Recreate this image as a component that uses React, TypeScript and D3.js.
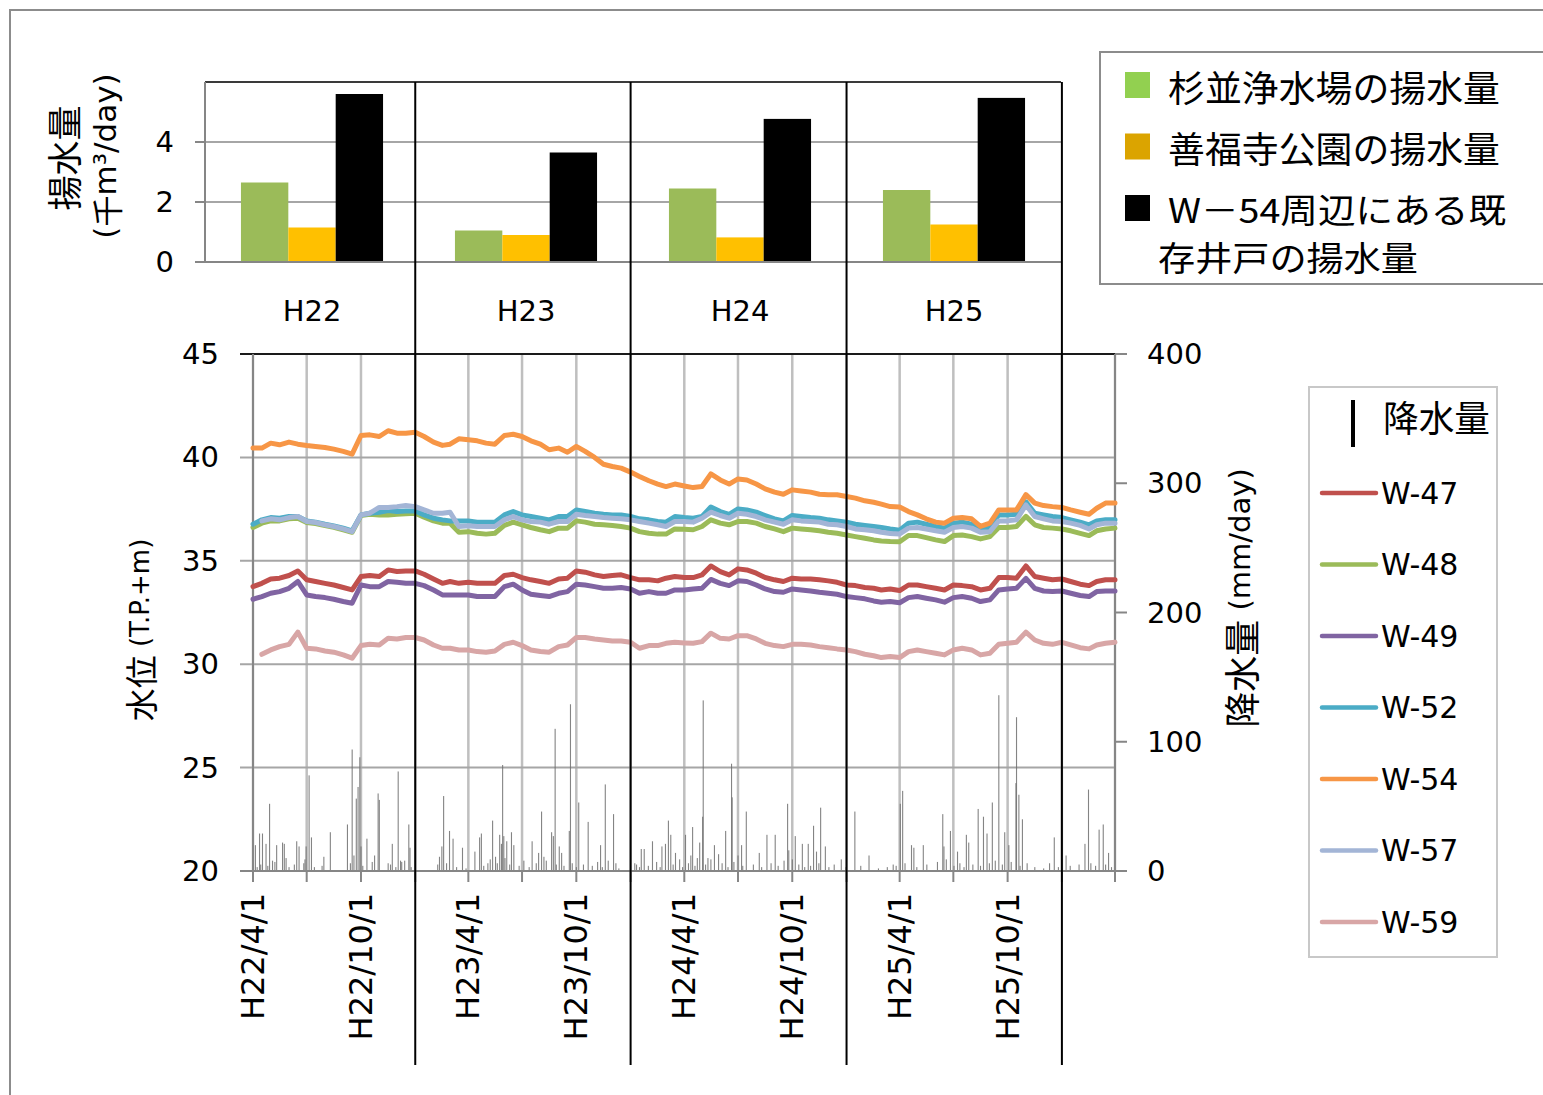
import React from 'react';
import * as d3 from 'd3';

// ---------- data ----------
const years = ['H22', 'H23', 'H24', 'H25'];
const pumpSuginami = [2.65, 1.05, 2.45, 2.4];
const pumpZenpukuji = [1.15, 0.9, 0.82, 1.25];
const pumpW54 = [5.6, 3.65, 4.77, 5.47];
const pumpTicks = [0, 2, 4];
const levelTicks = [20, 25, 30, 35, 40, 45];
const rainTicks = [0, 100, 200, 300, 400];

// water level, sampled on the 1st and 16th of each month from H22/4/1 to H26/4/1
const w47 = [
  33.75, 33.91, 34.12, 34.16, 34.29, 34.51, 34.08, 34.00, 33.91, 33.83, 33.71, 33.59, 34.24, 34.29, 34.24, 34.56, 34.48, 34.51, 34.51, 34.35, 34.12, 33.91, 34.00, 33.91,
  33.96, 33.91, 33.91, 33.91, 34.29, 34.35, 34.19, 34.08, 34.00, 33.91, 34.12, 34.16, 34.51, 34.45, 34.32, 34.24, 34.29, 34.32, 34.19, 34.08, 34.08, 34.03, 34.16, 34.24,
  34.19, 34.19, 34.32, 34.75, 34.48, 34.32, 34.61, 34.56, 34.40, 34.19, 34.08, 34.00, 34.16, 34.12, 34.12, 34.08, 34.03, 33.96, 33.83, 33.80, 33.71, 33.67, 33.59, 33.64,
  33.56, 33.83, 33.83, 33.75, 33.67, 33.59, 33.83, 33.80, 33.75, 33.59, 33.67, 34.19, 34.19, 34.16, 34.75, 34.24, 34.16, 34.08, 34.12, 34.00, 33.87, 33.80, 34.00, 34.08,
  34.08,
];
const w48 = [
  36.61, 36.82, 36.93, 36.93, 37.03, 37.06, 36.85, 36.80, 36.70, 36.62, 36.50, 36.38, 37.19, 37.25, 37.22, 37.22, 37.25, 37.28, 37.30, 37.11, 36.93, 36.82, 36.82, 36.38,
  36.41, 36.33, 36.29, 36.33, 36.71, 36.87, 36.74, 36.61, 36.50, 36.41, 36.58, 36.58, 36.93, 36.87, 36.77, 36.74, 36.71, 36.66, 36.58, 36.41, 36.33, 36.29, 36.29, 36.54,
  36.52, 36.50, 36.66, 36.98, 36.82, 36.74, 36.90, 36.90, 36.82, 36.66, 36.54, 36.41, 36.58, 36.54, 36.50, 36.45, 36.38, 36.33, 36.25, 36.17, 36.09, 36.01, 35.96, 35.93,
  35.92, 36.22, 36.22, 36.12, 36.01, 35.93, 36.22, 36.25, 36.17, 36.06, 36.17, 36.61, 36.61, 36.66, 37.15, 36.74, 36.61, 36.58, 36.54, 36.45, 36.33, 36.22, 36.45, 36.54,
  36.58,
];
const w49 = [
  33.14, 33.27, 33.43, 33.51, 33.67, 34.00, 33.35, 33.27, 33.22, 33.14, 33.03, 32.95, 33.83, 33.75, 33.75, 34.00, 33.96, 33.91, 33.91, 33.80, 33.59, 33.35, 33.35, 33.35,
  33.35, 33.27, 33.27, 33.27, 33.75, 33.87, 33.59, 33.38, 33.32, 33.27, 33.43, 33.51, 33.87, 33.83, 33.75, 33.67, 33.67, 33.71, 33.64, 33.43, 33.51, 33.43, 33.43, 33.59,
  33.59, 33.64, 33.67, 34.10, 33.91, 33.80, 34.03, 34.00, 33.83, 33.64, 33.51, 33.48, 33.64, 33.59, 33.54, 33.48, 33.43, 33.38, 33.27, 33.22, 33.16, 33.06, 33.00, 33.03,
  32.97, 33.22, 33.27, 33.19, 33.11, 33.00, 33.22, 33.27, 33.19, 33.03, 33.11, 33.59, 33.64, 33.67, 34.15, 33.67, 33.54, 33.51, 33.54, 33.43, 33.32, 33.27, 33.51, 33.54,
  33.54,
];
const w52 = [
  36.77, 36.98, 37.09, 37.06, 37.14, 37.14, 36.93, 36.87, 36.77, 36.69, 36.58, 36.45, 37.22, 37.30, 37.35, 37.43, 37.38, 37.41, 37.41, 37.22, 37.06, 36.98, 36.93, 36.93,
  36.92, 36.87, 36.87, 36.87, 37.22, 37.38, 37.22, 37.14, 37.06, 36.98, 37.14, 37.14, 37.46, 37.38, 37.30, 37.25, 37.22, 37.22, 37.14, 37.03, 36.98, 36.90, 36.87, 37.14,
  37.09, 37.06, 37.14, 37.60, 37.38, 37.25, 37.51, 37.46, 37.35, 37.19, 37.03, 36.93, 37.19, 37.14, 37.09, 37.06, 36.98, 36.93, 36.87, 36.77, 36.71, 36.66, 36.61, 36.54,
  36.48, 36.82, 36.87, 36.77, 36.66, 36.58, 36.82, 36.87, 36.77, 36.58, 36.61, 37.22, 37.22, 37.25, 37.85, 37.30, 37.22, 37.14, 37.09, 36.98, 36.87, 36.74, 36.93, 36.98,
  36.98,
];
const w54 = [
  40.45, 40.45, 40.69, 40.61, 40.74, 40.64, 40.58, 40.53, 40.48, 40.40, 40.29, 40.16, 41.06, 41.09, 41.01, 41.29, 41.17, 41.17, 41.22, 41.01, 40.74, 40.58, 40.64, 40.90,
  40.85, 40.80, 40.69, 40.64, 41.06, 41.12, 41.01, 40.80, 40.64, 40.37, 40.45, 40.25, 40.53, 40.29, 40.00, 39.67, 39.56, 39.48, 39.29, 39.08, 38.87, 38.71, 38.59, 38.71,
  38.62, 38.54, 38.59, 39.20, 38.91, 38.71, 38.96, 38.91, 38.71, 38.48, 38.32, 38.22, 38.43, 38.38, 38.32, 38.22, 38.19, 38.19, 38.11, 38.03, 37.90, 37.83, 37.74, 37.62,
  37.60, 37.38, 37.22, 37.03, 36.87, 36.82, 37.06, 37.09, 37.03, 36.66, 36.82, 37.46, 37.46, 37.46, 38.20, 37.79, 37.67, 37.62, 37.58, 37.46, 37.35, 37.25, 37.54, 37.79,
  37.79,
];
const w57 = [
  null, 36.93, 37.03, 36.98, 37.09, 37.14, 36.90, 36.85, 36.74, 36.66, 36.54, 36.41, 37.22, 37.30, 37.58, 37.58, 37.62, 37.67, 37.62, 37.46, 37.30, 37.30, 37.35, 36.66,
  36.69, 36.66, 36.66, 36.66, 36.98, 37.14, 36.98, 36.90, 36.87, 36.77, 36.90, 36.90, 37.25, 37.19, 37.14, 37.09, 37.06, 37.03, 36.98, 36.90, 36.82, 36.74, 36.66, 36.90,
  36.90, 36.87, 37.06, 37.35, 37.19, 37.06, 37.30, 37.25, 37.14, 36.98, 36.87, 36.77, 36.98, 36.93, 36.90, 36.87, 36.77, 36.74, 36.66, 36.54, 36.50, 36.45, 36.38, 36.32,
  36.30, 36.58, 36.61, 36.54, 36.45, 36.38, 36.61, 36.66, 36.58, 36.38, 36.41, 36.93, 36.93, 36.98, 37.70, 37.14, 37.03, 36.93, 36.90, 36.82, 36.71, 36.54, 36.74, 36.82,
  36.82,
];
const w59 = [
  null, 30.48, 30.69, 30.85, 30.96, 31.55, 30.77, 30.74, 30.64, 30.58, 30.45, 30.29, 30.90, 30.96, 30.93, 31.25, 31.22, 31.29, 31.29, 31.17, 30.93, 30.77, 30.77, 30.69,
  30.69, 30.61, 30.58, 30.64, 30.96, 31.06, 30.90, 30.69, 30.61, 30.58, 30.85, 30.93, 31.29, 31.29, 31.22, 31.17, 31.12, 31.12, 31.06, 30.77, 30.90, 30.90, 31.01, 31.06,
  31.03, 31.01, 31.09, 31.50, 31.25, 31.22, 31.38, 31.38, 31.22, 31.01, 30.90, 30.85, 30.96, 30.96, 30.93, 30.85, 30.80, 30.74, 30.69, 30.61, 30.48, 30.41, 30.32, 30.37,
  30.32, 30.61, 30.69, 30.61, 30.53, 30.45, 30.69, 30.77, 30.69, 30.45, 30.53, 30.96, 31.01, 31.06, 31.55, 31.17, 31.01, 30.96, 31.06, 30.93, 30.80, 30.74, 30.93, 31.01,
  31.06,
];

const wellNames = ['W-47', 'W-48', 'W-49', 'W-52', 'W-54', 'W-57', 'W-59'];
const wellColors = ['#c0504d', '#9bbb59', '#8064a2', '#4bacc6', '#f79646', '#a3b5d6', '#d8a6a6'];
const wellSeries = [w47, w48, w49, w52, w54, w57, w59];

// daily rainfall: [days since H22/4/1, mm/day]
const rain: [number, number][] = [
  [4, 20], [11, 29], [16, 29], [22, 21], [28, 52], [37, 7], [40, 20], [50, 22], [53, 21], [56, 10], [74, 23], [78, 19], [90, 19], [95, 74], [99, 26],
  [120, 11], [131, 30], [160, 36], [168, 94], [175, 56], [178, 65], [181, 88], [183, 19], [193, 25], [206, 12], [212, 60], [214, 55], [229, 6], [236, 21],
  [246, 77], [252, 7], [257, 8], [264, 36], [266, 18], [316, 11], [320, 19], [323, 58], [333, 31], [339, 25], [355, 18], [376, 15], [384, 26], [387, 29],
  [398, 6], [406, 39], [411, 11], [418, 28], [421, 21], [423, 82], [425, 27], [430, 23], [438, 30], [442, 20], [459, 8], [473, 23], [484, 14], [489, 46],
  [493, 11], [506, 30], [509, 27], [512, 110], [519, 19], [523, 14], [536, 31], [538, 129], [552, 53], [568, 38], [584, 7], [589, 20], [597, 67], [611, 44],
  [615, 6], [658, 17], [663, 17], [677, 23], [693, 19], [699, 21], [704, 39], [708, 28], [716, 14], [723, 9], [733, 28], [742, 12], [745, 34], [753, 10],
  [757, 22], [762, 42], [763, 132], [776, 9], [782, 20], [789, 13], [801, 31], [811, 83], [812, 57], [828, 20], [836, 46], [858, 14], [871, 28], [885, 28],
  [906, 52], [908, 16], [919, 27], [931, 21], [941, 21], [950, 35], [955, 15], [962, 49], [970, 19], [997, 9], [1020, 46], [1044, 12], [1097, 52], [1101, 62],
  [1116, 20], [1120, 18], [1136, 20], [1169, 44], [1171, 19], [1182, 31], [1194, 15], [1209, 28], [1213, 22], [1229, 48], [1238, 42], [1244, 29], [1253, 53],
  [1264, 136], [1274, 30], [1281, 20], [1293, 68], [1294, 119], [1298, 59], [1304, 40], [1350, 6], [1358, 26], [1378, 12], [1410, 21], [1416, 63], [1434, 32],
  [1441, 36], [1450, 14],
  // small daily amounts near the baseline
  [7, 3], [13, 5], [25, 4], [33, 8], [61, 3], [70, 5], [86, 6], [88, 9], [104, 3], [117, 4], [165, 6], [171, 12], [186, 4], [202, 7], [233, 5], [242, 3],
  [250, 8], [268, 3], [313, 5], [328, 6], [345, 3], [361, 2], [391, 4], [402, 9], [414, 6], [427, 10], [435, 5], [451, 4], [468, 3], [480, 6], [497, 8],
  [514, 5], [527, 4], [541, 6], [548, 3], [560, 5], [575, 4], [592, 3], [602, 8], [620, 2], [647, 6], [650, 5], [655, 3], [670, 4], [684, 7], [690, 3],
  [712, 5], [728, 3], [738, 6], [749, 4], [767, 5], [771, 10], [795, 6], [805, 3], [815, 7], [822, 12], [830, 4], [848, 5], [862, 3], [878, 6], [890, 4],
  [900, 8], [914, 9], [925, 5], [935, 3], [945, 4], [959, 6], [976, 3], [985, 5], [1005, 3], [1030, 4], [1060, 2], [1075, 3], [1085, 5], [1090, 4],
  [1105, 6], [1125, 3], [1142, 5], [1160, 7], [1175, 9], [1188, 4], [1198, 6], [1205, 3], [1220, 5], [1233, 4], [1248, 6], [1258, 8], [1270, 5],
  [1285, 7], [1300, 4], [1312, 6], [1325, 3], [1340, 2], [1365, 3], [1385, 4], [1400, 5], [1420, 6], [1428, 4], [1445, 5], [1455, 3],
];

const pumpLegend = [
  { label: '杉並浄水場の揚水量', color: '#92d050' },
  { label: '善福寺公園の揚水量', color: '#dba400' },
  { label: 'W－54周辺にある既', color: '#000000' },
];

// ---------- layout ----------
const W = 1543;
const H = 1095;
const FONT = "'DejaVu Sans','Noto Sans CJK JP',sans-serif";
const CJK = "'Noto Sans CJK JP','DejaVu Sans',sans-serif";

const start = new Date(2010, 3, 1);
const end = new Date(2014, 3, 1);
const sampleDates = d3.range(97).map((i) => new Date(2010, 3 + Math.floor(i / 2), i % 2 ? 16 : 1));

const x = d3.scaleTime().domain([start, end]).range([253, 1115]);
const yL = d3.scaleLinear().domain([20, 45]).range([871, 354]);
const yR = d3.scaleLinear().domain([0, 400]).range([871, 354]);

const xb = d3.scaleBand<string>().domain(years).range([205, 1061]);
const xInner = d3
  .scaleBand<string>()
  .domain(['s', 'z', 'w'])
  .range([xb.bandwidth() * 0.168, xb.bandwidth() * 0.832]);
const yb = d3.scaleLinear().domain([0, 6]).range([262, 82]);

const quarterDates = d3.range(17).map((i) => new Date(2010, 3 + 3 * i, 1));
const labelDates = d3.range(8).map((i) => new Date(2010, 3 + 6 * i, 1));
const yearBreaks = [2011, 2012, 2013, 2014].map((y) => new Date(y, 0, 1));
const fmtLabel = (d: Date) => `H${d.getFullYear() - 1988}/${d.getMonth() + 1}/1`;

export default function App() {
  const line = d3
    .line<number | null>()
    .defined((v) => v != null)
    .x((_, i) => x(sampleDates[i]))
    .y((v) => yL(v as number));

  return (
    <svg width={W} height={H} style={{ position: 'absolute', left: 0, top: 0, background: '#fff' }}>
      <rect x={0} y={0} width={W} height={H} fill="#fff" />
      {/* outer frame */}
      <rect x={10} y={10} width={1600} height={1200} fill="none" stroke="#8c8c8c" strokeWidth={2} />

      {/* ===== pumping bar chart ===== */}
      {pumpTicks.slice(1).map((t) => (
        <line key={'pg' + t} x1={205} x2={1061} y1={yb(t)} y2={yb(t)} stroke="#a6a6a6" strokeWidth={2} />
      ))}
      <line x1={205} x2={1061} y1={82} y2={82} stroke="#3a3a3a" strokeWidth={2} />
      {years.map((yr, i) => {
        const b = xb(yr)!;
        const vals = [
          { k: 's', v: pumpSuginami[i], c: '#9bbb59' },
          { k: 'z', v: pumpZenpukuji[i], c: '#ffc000' },
          { k: 'w', v: pumpW54[i], c: '#000000' },
        ];
        return (
          <g key={yr}>
            {vals.map((d) => (
              <rect
                key={d.k}
                x={b + xInner(d.k)!}
                y={yb(d.v)}
                width={xInner.bandwidth()}
                height={yb(0) - yb(d.v)}
                fill={d.c}
              />
            ))}
            <text
              x={b + xb.bandwidth() / 2}
              y={311}
              textAnchor="middle"
              dominantBaseline="central"
              fontFamily={FONT}
              fontSize={29}
            >
              {yr}
            </text>
          </g>
        );
      })}
      <line x1={205} x2={205} y1={82} y2={262} stroke="#868686" strokeWidth={2} />
      <line x1={195} x2={1061} y1={262} y2={262} stroke="#868686" strokeWidth={2} />
      {pumpTicks.map((t) => (
        <g key={'pt' + t}>
          <line x1={195} x2={205} y1={yb(t)} y2={yb(t)} stroke="#868686" strokeWidth={2} />
          <text x={174} y={yb(t)} textAnchor="end" dominantBaseline="central" fontFamily={FONT} fontSize={29}>
            {t}
          </text>
        </g>
      ))}
      <text transform="translate(62,158) rotate(-90)" textAnchor="middle" dominantBaseline="central" fontFamily={CJK} fontSize={35}>
        揚水量
      </text>
      <text transform="translate(105,156) rotate(-90)" textAnchor="middle" dominantBaseline="central" fontFamily={FONT} fontSize={31}>
        (<tspan fontFamily={CJK}>千</tspan>m³/day)
      </text>

      {/* ===== water level chart ===== */}
      {quarterDates.map((d, i) => (
        <line key={'vg' + i} x1={x(d)} x2={x(d)} y1={354} y2={871} stroke="#bfbfbf" strokeWidth={2.5} />
      ))}
      {levelTicks.map((t) => (
        <line key={'hg' + t} x1={240} x2={1115} y1={yL(t)} y2={yL(t)} stroke="#a6a6a6" strokeWidth={2} />
      ))}
      <line x1={240} x2={1115} y1={354} y2={354} stroke="#1a1a1a" strokeWidth={1.8} />

      {/* rainfall */}
      {rain.map(([d, mm], i) => (
        <rect
          key={'r' + i}
          x={x(d3.timeDay.offset(start, d)) - 0.5}
          y={yR(mm)}
          width={1.1}
          height={yR(0) - yR(mm)}
          fill="#6f6f6f"
          opacity={0.85}
        />
      ))}

      {/* axes */}
      <line x1={253} x2={253} y1={354} y2={871} stroke="#868686" strokeWidth={2} />
      <line x1={1115} x2={1115} y1={354} y2={871} stroke="#868686" strokeWidth={2} />
      <line x1={240} x2={1127} y1={871} y2={871} stroke="#868686" strokeWidth={2} />
      {quarterDates.map((d, i) => (
        <line key={'xt' + i} x1={x(d)} x2={x(d)} y1={871} y2={882} stroke="#868686" strokeWidth={2} />
      ))}
      {levelTicks.map((t) => (
        <text key={'lt' + t} x={219} y={yL(t)} textAnchor="end" dominantBaseline="central" fontFamily={FONT} fontSize={29}>
          {t}
        </text>
      ))}
      {rainTicks.map((t) => (
        <g key={'rt' + t}>
          <line x1={1115} x2={1127} y1={yR(t)} y2={yR(t)} stroke="#868686" strokeWidth={2} />
          <text x={1147} y={yR(t)} textAnchor="start" dominantBaseline="central" fontFamily={FONT} fontSize={29}>
            {t}
          </text>
        </g>
      ))}
      {labelDates.map((d, i) => (
        <text
          key={'xl' + i}
          transform={`translate(${x(d)},893) rotate(-90)`}
          textAnchor="end"
          dominantBaseline="central"
          fontFamily={FONT}
          fontSize={32}
        >
          {fmtLabel(d)}
        </text>
      ))}

      {/* water level lines */}
      {wellSeries.map((s, i) => (
        <path
          key={wellNames[i]}
          d={line(s) || ''}
          fill="none"
          stroke={wellColors[i]}
          strokeWidth={5}
          strokeLinejoin="round"
          strokeLinecap="round"
        />
      ))}

      {/* year dividers */}
      {yearBreaks.map((d, i) => (
        <line key={'yb' + i} x1={x(d)} x2={x(d)} y1={82} y2={1065} stroke="#000" strokeWidth={2} />
      ))}

      {/* axis titles */}
      <text transform="translate(140,630) rotate(-90)" textAnchor="middle" dominantBaseline="central" fontFamily={FONT}>
        <tspan fontFamily={CJK} fontSize={33}>水位</tspan>
        <tspan fontSize={26}> (T.P.+m)</tspan>
      </text>
      <text transform="translate(1240,598) rotate(-90)" textAnchor="middle" dominantBaseline="central" fontFamily={FONT}>
        <tspan fontFamily={CJK} fontSize={36}>降水量</tspan>
        <tspan fontSize={29}> (mm/day)</tspan>
      </text>

      {/* pumping legend */}
      <rect x={1100} y={52} width={470} height={232} fill="#fff" stroke="#8c8c8c" strokeWidth={2} />
      {pumpLegend.map((d, i) => (
        <g key={'pl' + i}>
          <rect x={1125} y={72 + i * 61.5} width={25} height={26} fill={d.color} />
          <text
            x={1168}
            y={86 + i * 61}
            dominantBaseline="central"
            fontFamily={CJK}
            fontSize={i === 2 ? 34 : 36}
            textLength={i === 2 ? 338 : 332}
            lengthAdjust="spacingAndGlyphs"
          >
            {d.label}
          </text>
        </g>
      ))}
      <text x={1158} y={256} dominantBaseline="central" fontFamily={CJK} fontSize={34} textLength={260} lengthAdjust="spacingAndGlyphs">
        存井戸の揚水量
      </text>

      {/* well legend */}
      <rect x={1309} y={387} width={188} height={570} fill="#fff" stroke="#c8c8c8" strokeWidth={2} />
      <line x1={1353} x2={1353} y1={400} y2={447} stroke="#000" strokeWidth={4} />
      <text x={1383} y={416} dominantBaseline="central" fontFamily={CJK} fontSize={36} textLength={107} lengthAdjust="spacingAndGlyphs">
        降水量
      </text>
      {wellNames.map((n, i) => (
        <g key={'wl' + n}>
          <line x1={1322} x2={1376} y1={493 + i * 71.5} y2={493 + i * 71.5} stroke={wellColors[i]} strokeWidth={4.5} strokeLinecap="round" />
          <text x={1381} y={493 + i * 71.5} dominantBaseline="central" fontFamily={FONT} fontSize={30}>
            {n}
          </text>
        </g>
      ))}
    </svg>
  );
}
